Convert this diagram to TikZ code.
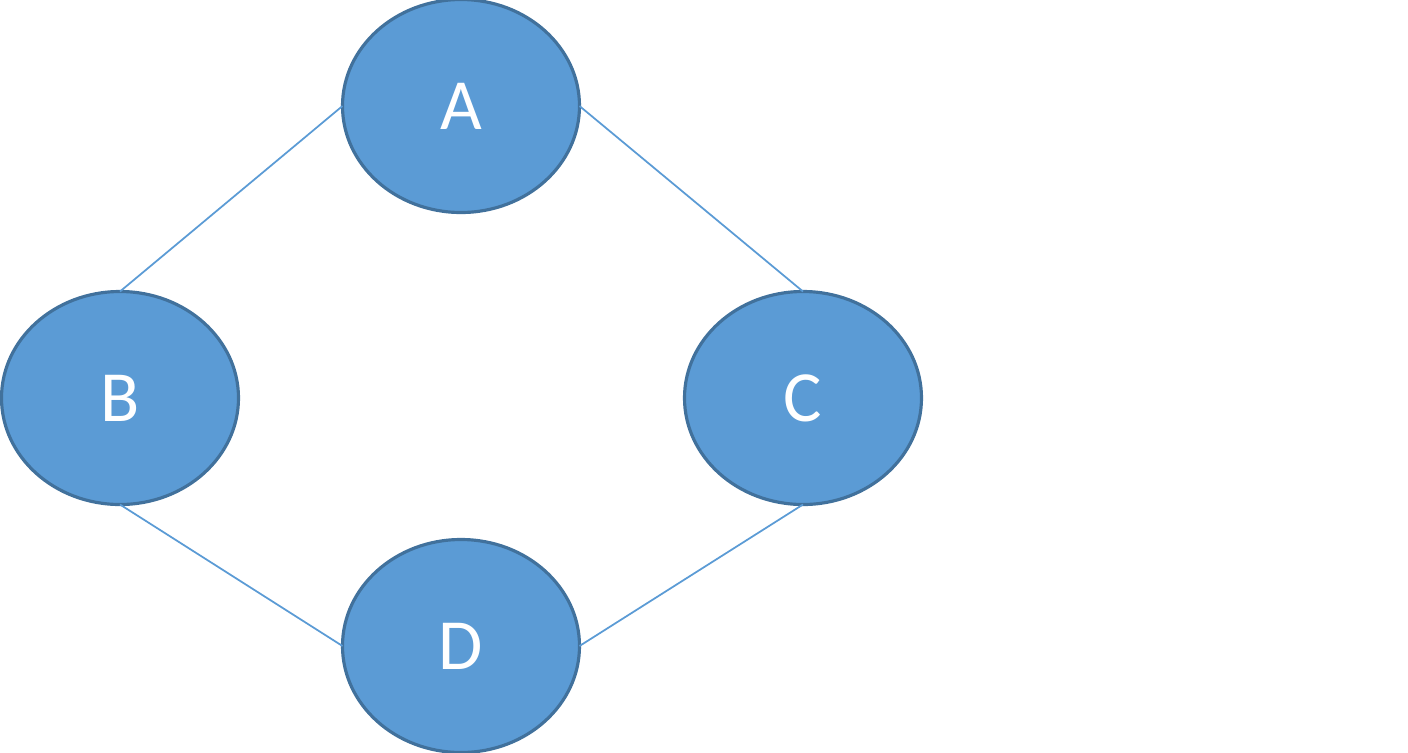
\documentclass[tikz,border=0pt]{standalone}
\usepackage{fontspec}
\setmainfont{Carlito}
\usetikzlibrary{shapes.geometric}

\definecolor{nodefill}{HTML}{5B9BD5}
\definecolor{nodeedge}{HTML}{41719C}

\tikzset{
  vertex/.style={ellipse, fill=nodefill, draw=nodeedge, line width=0.9pt,
    minimum width=2.37cm, minimum height=2.13cm, inner sep=0pt, outer sep=0pt,
    text=white, font=\fontsize{20.5}{22}\selectfont},
  link/.style={draw=nodefill, line width=0.5pt}
}

\begin{document}
\begin{tikzpicture}

\useasboundingbox (0,0) rectangle (14.08,7.52);

\node[vertex] (A) at (4.61,6.46) {A};

\node[vertex] (B) at (1.20,3.54) {B};

\node[vertex] (C) at (8.03,3.54) {C};

\node[vertex] (D) at (4.61,1.06) {D};

\draw [link] (A.west) -- (B.north);
\draw [link] (A.east) -- (C.north);
\draw [link] (B.south) -- (D.west);
\draw [link] (C.south) -- (D.east);
\end{tikzpicture}
\end{document}
